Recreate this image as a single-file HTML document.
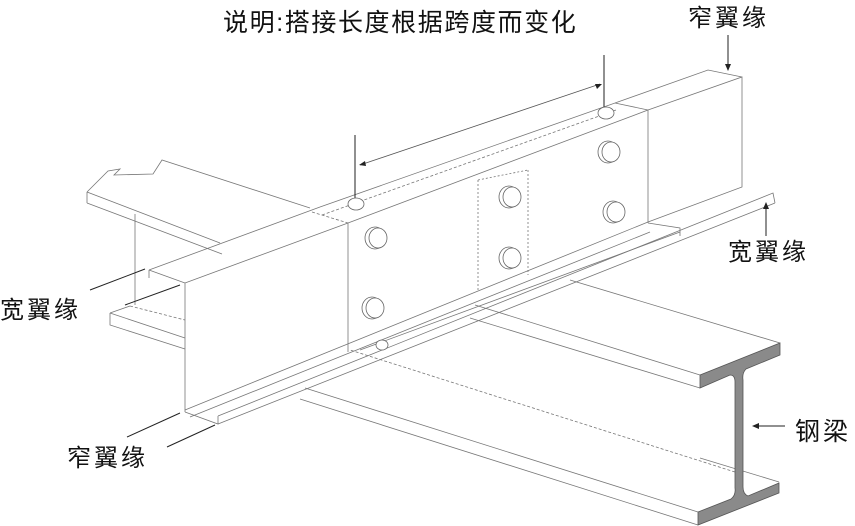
<!DOCTYPE html>
<html><head><meta charset="utf-8"><style>
html,body{margin:0;padding:0;background:#fff;}
svg{display:block}
text{font-family:"Liberation Sans","Noto Sans CJK SC",sans-serif;fill:#111}
</style></head><body>
<svg width="855" height="526" viewBox="0 0 855 526" xmlns="http://www.w3.org/2000/svg">
<g fill="none" stroke="#777" stroke-width="0.8">
<path d="M87,192 L108,171 L120,169 L114,175 L153,174 L162,160 L310,208" />
<path d="M87,192 L87,203 M87,192 L220,243 M87,203 L222,254" />
<path d="M135,214 L135,305" />
<path d="M110,313 L110,325 L185,349 M110,313 L130,306 M110,313 L185,338" />
<path d="M130,306 L185,320" stroke-dasharray="3,2"/>
<path d="M700,375 L475,305 M700,388 L470,318 M780,343 L570,280" />
<path d="M698,512 L305,388 M698,525 L300,399 M779,482 L700,458" />
<path d="M735,472 L350,350" stroke-dasharray="3,2"/>
<path d="M185,283 L185,412 M185,283 L348,223 M149,270 L320,207 M149,270 L185,283 M149,270 L149,278" />
<path d="M185,410 L648,222 M185,412 L218,424 L218,416 M218,424 L775,203 M218,416 L773,193 L775,203" />
<path d="M190,417 L650,232" />
<path d="M348,223 L348,352 M348,223 L648,110 L648,223 M320,207 L615,103 L648,110" />
<path d="M312,212 L348,223 M322,215 L616,110" stroke-dasharray="3,2"/>
<path d="M478,180 L478,290 M528,170 L528,275 M478,180 L528,170" stroke-dasharray="2,2"/>
<path d="M648,110 L742,77 L742,187 L648,222 M615,103 L708,70 L742,77" />
<path d="M648,223 L680,228 L680,236 M360,350 L680,232" />
<g stroke="#222" stroke-width="1">
<path d="M355,135 L355,198 M604,55 L604,108" />
<path d="M728,35 L728,68 M766,205 L766,236 M755,426 L785,426" />
<path d="M90,290 L145,269 M125,305 L180,285 M127,437 L180,413 M167,447 L215,425" />
</g>
<path d="M360,165 L600,84" stroke="#555"/>
<g stroke="#666" fill="#fff">
<ellipse cx="356" cy="204" rx="8" ry="6"/>
<ellipse cx="606" cy="113" rx="8" ry="6"/>
<ellipse cx="375" cy="238" rx="10" ry="11"/><ellipse cx="378" cy="238" rx="9" ry="10"/>
<ellipse cx="372" cy="308" rx="10" ry="11"/><ellipse cx="375" cy="308" rx="9" ry="10"/>
<ellipse cx="509" cy="197" rx="10" ry="11"/><ellipse cx="512" cy="197" rx="9" ry="10"/>
<ellipse cx="509" cy="258" rx="10" ry="11"/><ellipse cx="512" cy="258" rx="9" ry="10"/>
<ellipse cx="608" cy="152" rx="10" ry="11"/><ellipse cx="611" cy="152" rx="9" ry="10"/>
<ellipse cx="613" cy="212" rx="10" ry="11"/><ellipse cx="616" cy="212" rx="9" ry="10"/>
<ellipse cx="382" cy="345" rx="6" ry="5"/>
</g>
</g>
<path d="M700,375 L780,343 L780,355 L746,369 Q742,373 743,380 L743,487 Q743,494 748,496 L779,483 L779,493 L698,525 L698,512 L731,499 Q736,495 735,488 L735,382 Q735,375 730,375 L700,388 Z" fill="#8a8a8a" stroke="#555" stroke-width="0.8"/>
<g fill="#222">
<path d="M728,71 L725,64 L731,64 Z"/>
<path d="M766,202 L763,209 L769,209 Z"/>
<path d="M752,426 L759,423 L759,429 Z"/>
<path d="M359,165 L365,161 L366,166 Z"/>
<path d="M602,84 L595,84 L597,89 Z"/>
</g>
<text x="223" y="31" font-size="25" letter-spacing="1.6">说明:搭接长度根据跨度而变化</text>
<text x="688" y="26" font-size="24" letter-spacing="3">窄翼缘</text>
<text x="728" y="260" font-size="24" letter-spacing="3">宽翼缘</text>
<text x="0" y="318" font-size="24" letter-spacing="3">宽翼缘</text>
<text x="67" y="466" font-size="24" letter-spacing="3">窄翼缘</text>
<text x="795" y="440" font-size="25" letter-spacing="3">钢梁</text>
</svg>
</body></html>
